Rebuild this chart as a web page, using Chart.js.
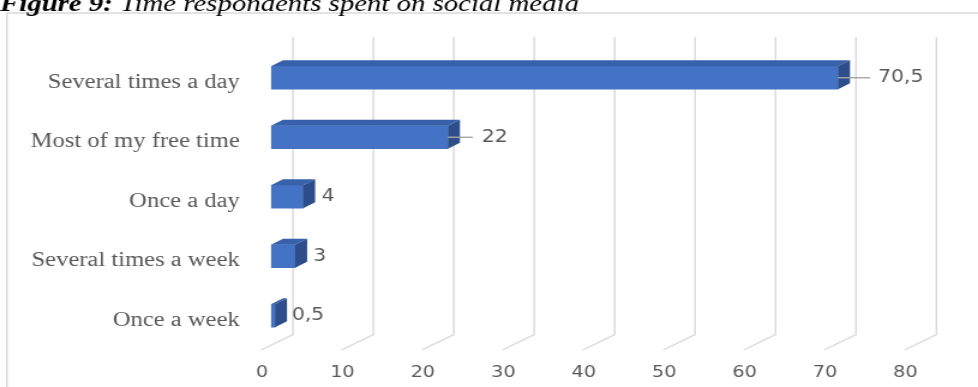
<!DOCTYPE html>
<html>
<head>
<meta charset="utf-8">
<script src="https://cdn.jsdelivr.net/npm/chart.js@4/dist/chart.umd.min.js"></script>
<style>
  html, body { margin: 0; padding: 0; background: #ffffff; overflow: hidden; }
  #wrap { width: 815px; height: 387px; transform: scaleX(1.2); transform-origin: 0 0; }
  canvas { display: block; }
</style>
</head>
<body>
<div id="wrap"><canvas id="chart" width="815" height="387"></canvas></div>
<script>
// Survey answers and their shares (%)
const categories = ['Several times a day', 'Most of my free time', 'Once a day', 'Several times a week', 'Once a week'];
const shares = [70.5, 22, 4, 3, 0.5];
const axisTicks = [0, 10, 20, 30, 40, 50, 60, 70, 80];

const TEXT_GREY = '#595959';
const GRID_GREY = '#d9d9d9';

// Value labels use a decimal comma
const formatShare = v => String(v).replace('.', ',');

// Pseudo-3D look: back wall grid, floor edges, bar top and side faces, value labels
const depthPlugin = {
  id: 'depth3d',
  beforeDatasetsDraw(chart, args, opts) {
    const { ctx, chartArea: area } = chart;
    const xs = chart.scales.x;
    ctx.save();
    ctx.strokeStyle = GRID_GREY;
    ctx.lineWidth = 1.4;
    xs.ticks.forEach(t => {
      const px = xs.getPixelForValue(t.value);
      ctx.beginPath();
      ctx.moveTo(px + opts.back[0], area.top + opts.back[1]);
      ctx.lineTo(px + opts.back[0], area.bottom + opts.back[1]);
      ctx.lineTo(px + opts.front[0], area.bottom + opts.front[1]);
      ctx.stroke();
    });
    ctx.restore();
  },
  afterDatasetsDraw(chart, args, opts) {
    const { ctx } = chart;
    const meta = chart.getDatasetMeta(0);
    const [dx, dy] = opts.bar;
    ctx.save();
    meta.data.forEach((bar, i) => {
      const x0 = bar.base, x1 = bar.x;
      const y0 = bar.y - bar.height / 2, y1 = bar.y + bar.height / 2;
      // top face
      ctx.fillStyle = opts.topColor;
      ctx.beginPath();
      ctx.moveTo(x0, y0);
      ctx.lineTo(x1, y0);
      ctx.lineTo(x1 + dx, y0 - dy);
      ctx.lineTo(x0 + dx, y0 - dy);
      ctx.closePath();
      ctx.fill();
      // side face
      ctx.fillStyle = opts.sideColor;
      ctx.beginPath();
      ctx.moveTo(x1, y0);
      ctx.lineTo(x1 + dx, y0 - dy);
      ctx.lineTo(x1 + dx, y1 - dy);
      ctx.lineTo(x1, y1);
      ctx.closePath();
      ctx.fill();
      // leader line
      const lead = opts.leader[i];
      if (lead > 0) {
        ctx.strokeStyle = '#a6a6a6';
        ctx.lineWidth = 1.4;
        ctx.beginPath();
        ctx.moveTo(x1, bar.y);
        ctx.lineTo(x1 + lead, bar.y);
        ctx.stroke();
      }
      // value label
      ctx.fillStyle = TEXT_GREY;
      ctx.font = '17px "DejaVu Sans"';
      ctx.textAlign = 'left';
      ctx.textBaseline = 'middle';
      ctx.fillText(formatShare(shares[i]), x1 + opts.shift[i], bar.y);
    });
    ctx.restore();
  },
  afterDraw(chart) {
    const { ctx } = chart;
    ctx.save();
    // chart frame
    ctx.strokeStyle = GRID_GREY;
    ctx.lineWidth = 1.5;
    ctx.strokeRect(5.8, 13, 900, 500);
    // figure caption
    ctx.fillStyle = '#000000';
    ctx.textBaseline = 'alphabetic';
    ctx.textAlign = 'left';
    ctx.font = 'italic bold 24px "Liberation Serif"';
    const lead = 'Figure 9:';
    ctx.fillText(lead, 0, 10.5);
    const w = ctx.measureText(lead + ' ').width;
    ctx.font = 'italic 24px "Liberation Serif"';
    ctx.fillText('Time respondents spent on social media', w, 10.5);
    ctx.restore();
  }
};

new Chart(document.getElementById('chart'), {
  type: 'bar',
  data: {
    labels: categories,
    datasets: [{
      data: shares,
      backgroundColor: '#4472C4',
      borderWidth: 0,
      barThickness: 23
    }]
  },
  options: {
    indexAxis: 'y',
    responsive: false,
    animation: false,
    devicePixelRatio: 1,
    layout: { padding: { top: 48, right: 53, left: 0, bottom: 0 } },
    plugins: {
      legend: { display: false },
      tooltip: { enabled: false },
      title: { display: false },
      depth3d: {
        bar: [10, 6],
        back: [18.3, -11],
        front: [-8.3, 4.5],
        topColor: '#3761AA',
        sideColor: '#2D4E8A',
        leader: [26.7, 20.8, 0, 0, 0],
        shift: [33.3, 28.3, 15.5, 15, 14]
      }
    },
    scales: {
      x: {
        min: axisTicks[0],
        max: axisTicks[axisTicks.length - 1],
        afterBuildTicks(scale) { scale.ticks = axisTicks.map(v => ({ value: v })); },
        ticks: {
          color: TEXT_GREY,
          font: { family: 'DejaVu Sans', size: 16 },
          padding: 18,
          labelOffset: -7.5,
          maxRotation: 0
        },
        grid: { display: false, drawTicks: false },
        border: { display: false },
        afterFit(scale) { scale.height = 41.5; }
      },
      y: {
        ticks: {
          color: TEXT_GREY,
          font: { family: 'Liberation Serif', size: 20.5 },
          padding: 26,
          labelOffset: 4.5
        },
        grid: { display: false, drawTicks: false },
        border: { display: false },
        afterFit(scale) { scale.width = 225.8; }
      }
    }
  },
  plugins: [depthPlugin]
});
</script>
</body>
</html>
